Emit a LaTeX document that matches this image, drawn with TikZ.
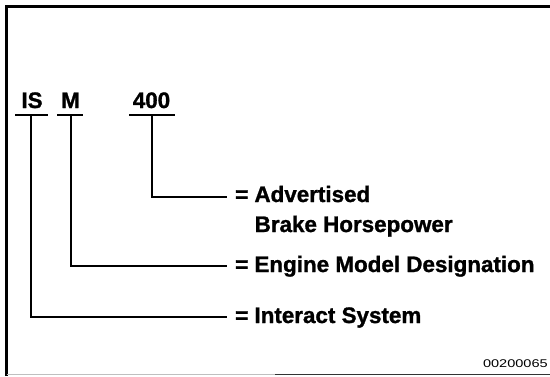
\documentclass[tikz,border=0pt]{standalone}
\usepackage{fontspec}
\setmainfont{Liberation Sans}
\newfontfamily\heavyfont[FakeBold=1.2]{Liberation Sans Bold}
\begin{document}
\begin{tikzpicture}[x=1pt,y=-1pt,
  lbl/.style={font=\fontsize{22.4}{27}\selectfont\heavyfont, inner sep=0pt},
  ln/.style={line width=2pt},
  ul/.style={line width=2.6pt}]
\useasboundingbox (0,0) rectangle (550,376);
% frame
\draw[line width=3pt] (6.5,376) -- (6.5,6.5) -- (550,6.5);
\draw[black!25, line width=1.5pt] (6.5,374.5) -- (275,374.5);
\draw[black!80, line width=1.5pt] (275,374.5) -- (550,374.5);
% code letters
\node[lbl, anchor=base] (is) at (32,108) {IS};
\node[lbl, anchor=base] (m) at (70.5,108) {M};
\node[lbl, anchor=base] (hp) at (151.5,108) {400};
% underlines
\coordinate (isL) at (15,115); \coordinate (isR) at (48,115); \coordinate (isU) at (31,115);
\coordinate (mL) at (57,115); \coordinate (mR) at (83,115); \coordinate (mU) at (71,115);
\coordinate (hpL) at (129,115); \coordinate (hpR) at (175,115); \coordinate (hpU) at (152,115);
\draw[ul] (isL) -- (isR);
\draw[ul] (mL) -- (mR);
\draw[ul] (hpL) -- (hpR);
% labels
\node[lbl, anchor=base west] (tA) at (235,202) {= Advertised};
\node[lbl, anchor=base west] (tA2) at (254.5,232) {Brake Horsepower};
\node[lbl, anchor=base west] (tE) at (235,272) {= Engine Model Designation};
\node[lbl, anchor=base west] (tI) at (235,323) {= Interact System};
% connector ends
\coordinate (aEnd) at (227,196.5);
\coordinate (eEnd) at (227,265.5);
\coordinate (iEnd) at (227,316.5);
\draw[ln] (hpU) |- (aEnd);
\draw[ln] (mU) |- (eEnd);
\draw[ln] (isU) |- (iEnd);
% figure number
\node[anchor=base east, inner sep=0pt, font=\fontsize{11.2}{13}\selectfont] (fig) at (548,367) {\scalebox{1.3}[1]{00200065}};
\end{tikzpicture}
\end{document}
